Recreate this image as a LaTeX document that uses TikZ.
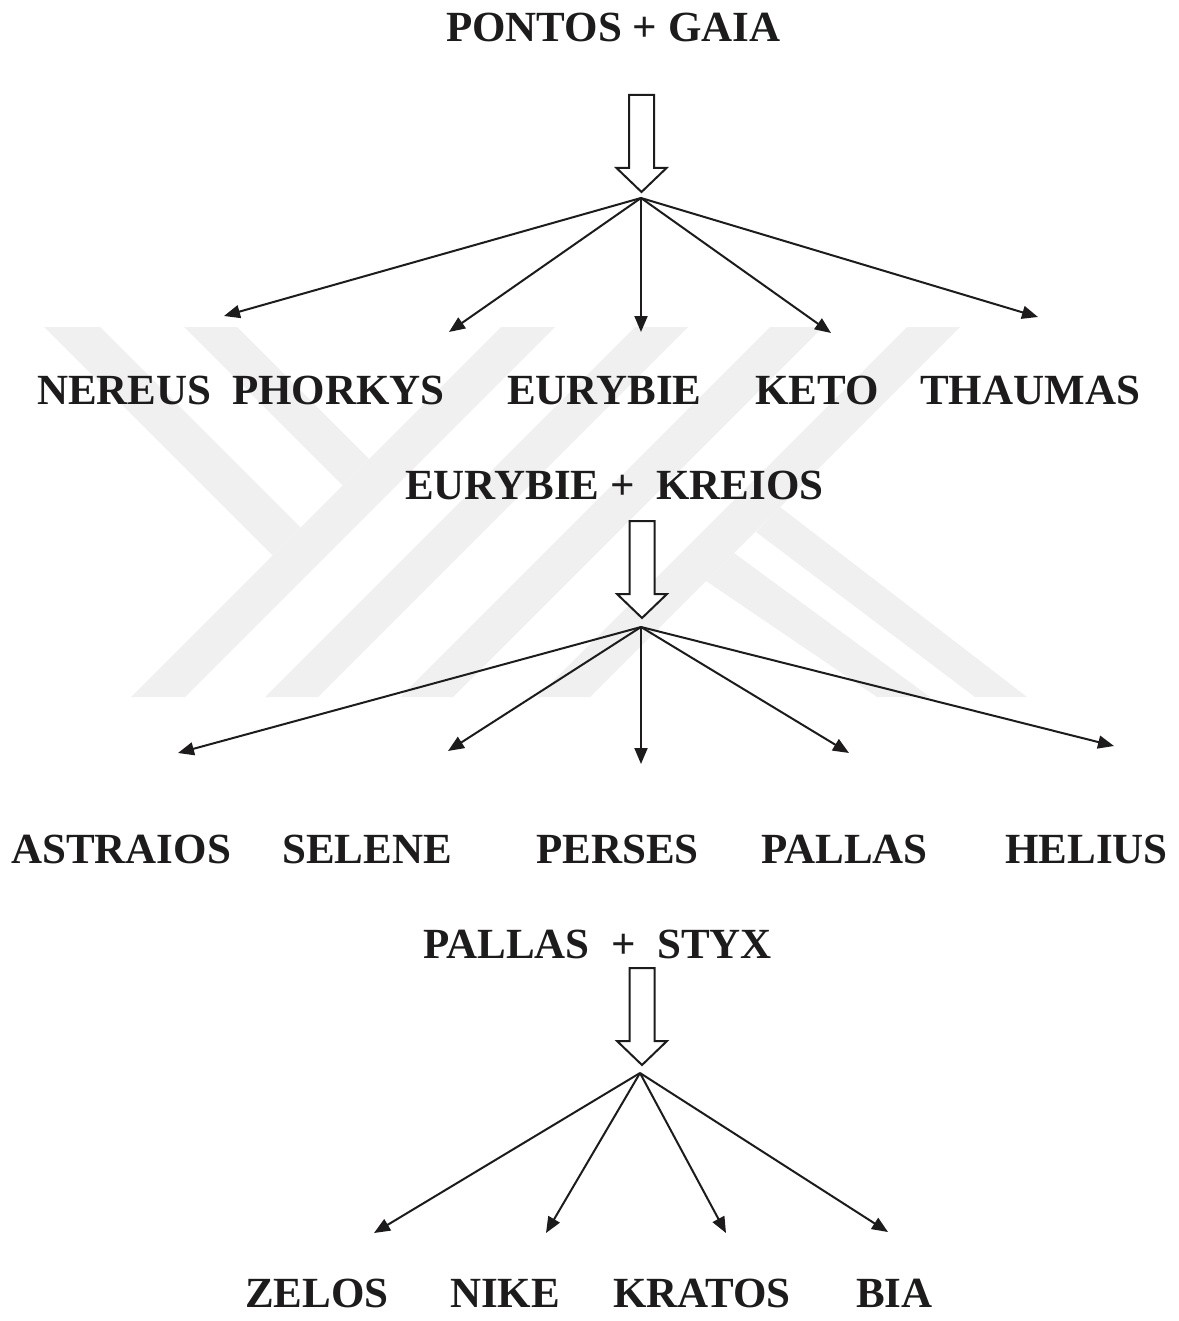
\documentclass[tikz,border=0pt]{standalone}
\usepackage{fontspec}
\setmainfont{Liberation Serif}
\usetikzlibrary{arrows.meta}
\definecolor{wm}{RGB}{240,240,240}
\definecolor{ink}{RGB}{30,27,28}
\tikzset{
  lbl/.style={font=\fontsize{43}{50}\selectfont\bfseries, text=ink, inner sep=0pt, anchor=base west},
  fan/.style={draw=ink, line width=2pt, -{Triangle[length=16pt,width=13pt]}},
  hollow/.style={draw=ink, line width=2pt, fill=white, line join=miter},
  wmark/.style={fill=wm, draw=none},
  hollowarrow/.pic={\draw[hollow] (-12.5,-97) -- (12.5,-97) -- (12.5,-24) -- (25,-24) -- (0,0) -- (-25,-24) -- (-12.5,-24) -- cycle;}
}
\begin{document}
\begin{tikzpicture}[x=1pt,y=-1pt]
\useasboundingbox (0,0) rectangle (1178,1321);
% watermark
\fill[wmark] (44,327) -- (100,327) -- (300.5,527.5) -- (272.5,555.5) -- cycle;
\fill[wmark] (184,327) -- (237,327) -- (369,459) -- (342.5,485.5) -- cycle;
\fill[wmark] (501,327) -- (555,327) -- (185,697) -- (131,697) -- cycle;
\fill[wmark] (635,327) -- (688,327) -- (318,697) -- (265,697) -- cycle;
\fill[wmark] (770,327) -- (823,327) -- (453,697) -- (400,697) -- cycle;
\fill[wmark] (907,327) -- (960,327) -- (590,697) -- (537,697) -- cycle;
\fill[wmark] (706,581) -- (734,553) -- (930,697) -- (877,697) -- cycle;
\fill[wmark] (756,532) -- (780,507) -- (1027,697) -- (975,697) -- cycle;

% labels
\node[lbl] (pg) at (446,42) {PONTOS + GAIA};
\node[lbl] (nereus) at (37,404) {NEREUS};
\node[lbl] (phorkys) at (232,404) {PHORKYS};
\node[lbl] (eurybie) at (507,404) {EURYBIE};
\node[lbl] (keto) at (755,404) {KETO};
\node[lbl] (thaumas) at (920,404) {THAUMAS};
\node[lbl] (ek) at (405,499) {EURYBIE + \ KREIOS};
\node[lbl] (astraios) at (11,863) {ASTRAIOS};
\node[lbl] (selene) at (282,863) {SELENE};
\node[lbl] (perses) at (536,863) {PERSES};
\node[lbl] (pallas) at (761,863) {PALLAS};
\node[lbl] (helius) at (1005,863) {HELIUS};
\node[lbl] (ps) at (423,958) {PALLAS \ +\ \ STYX};
\node[lbl] (zelos) at (245,1307) {ZELOS};
\node[lbl] (nike) at (450,1307) {NIKE};
\node[lbl] (kratos) at (613,1307) {KRATOS};
\node[lbl] (bia) at (856,1307) {BIA};

% hollow arrows
\pic at (641.5,192) {hollowarrow};
\pic at (642,618) {hollowarrow};
\pic at (642,1065) {hollowarrow};

% fan 1
\coordinate (a1) at (641,198);
\coordinate (t11) at (224,316);
\coordinate (t12) at (449,332);
\coordinate (t13) at (641,332);
\coordinate (t14) at (831,333);
\coordinate (t15) at (1038,317);
\foreach \t in {t11,t12,t13,t14,t15} \draw[fan] (a1) -- (\t);

% fan 2
\coordinate (a2) at (641,627);
\coordinate (t21) at (178,753);
\coordinate (t22) at (448,751);
\coordinate (t23) at (641,764);
\coordinate (t24) at (849,753);
\coordinate (t25) at (1114,746);
\foreach \t in {t21,t22,t23,t24,t25} \draw[fan] (a2) -- (\t);

% fan 3
\coordinate (a3) at (640,1073);
\coordinate (t31) at (374,1233);
\coordinate (t32) at (546,1233);
\coordinate (t33) at (726,1233);
\coordinate (t34) at (888,1232);
\foreach \t in {t31,t32,t33,t34} \draw[fan] (a3) -- (\t);
\end{tikzpicture}
\end{document}
